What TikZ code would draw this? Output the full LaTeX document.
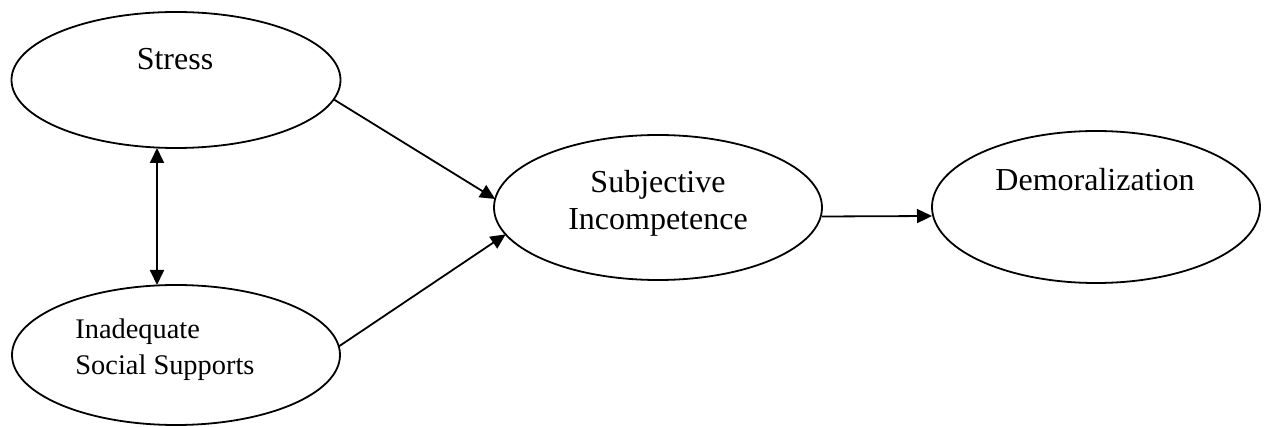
\documentclass[tikz,border=0pt]{standalone}
\usepackage{fontspec}
\setmainfont{Liberation Serif}
\usetikzlibrary{shapes.geometric,arrows.meta}
\begin{document}
\begin{tikzpicture}[x=0.5pt,y=-0.5pt,
  oval/.style={ellipse,draw,line width=0.9pt,inner sep=0pt,outer sep=0pt},
  lbl/.style={inner sep=0pt,anchor=base,font=\fontsize{16}{19}\selectfont},
  slbl/.style={inner sep=0pt,anchor=base west,font=\fontsize{14.2}{17}\selectfont},
  link/.style={line width=0.9pt,-{Triangle[length=7.5pt,width=7pt]}},
  dlink/.style={line width=0.9pt,{Triangle[length=7.5pt,width=7pt]}-{Triangle[length=7.5pt,width=7pt]}}]
\useasboundingbox (0,0) rectangle (1264,427);
\node[oval,minimum width=164.5pt,minimum height=68pt] (stress) at (176,80) {};
\node[oval,minimum width=164pt,minimum height=70pt] (inad) at (176,355) {};
\node[oval,minimum width=164pt,minimum height=72.5pt] (subj) at (658,207.5) {};
\node[oval,minimum width=164pt,minimum height=76pt] (demor) at (1096,207) {};
\node[lbl] (stress-t) at (175,70) {Stress};
\node[slbl] (inad-t1) at (75,339) {Inadequate};
\node[slbl] (inad-t2) at (75,374) {Social Supports};
\node[lbl] (subj-t1) at (658,193) {Subjective};
\node[lbl] (subj-t2) at (658,230) {Incompetence};
\node[lbl] (demor-t) at (1095,191) {Demoralization};
\draw[dlink] ([xshift=-9.5pt]stress.south) -- ([xshift=-9.5pt]inad.north);
\draw[link] (stress.-7) -- (subj.177);
\draw[link] (inad.3) -- (subj.-170);
\draw[link] ([yshift=-4.5pt]subj.east) -- ([yshift=-4.5pt]demor.west);
\end{tikzpicture}
\end{document}
